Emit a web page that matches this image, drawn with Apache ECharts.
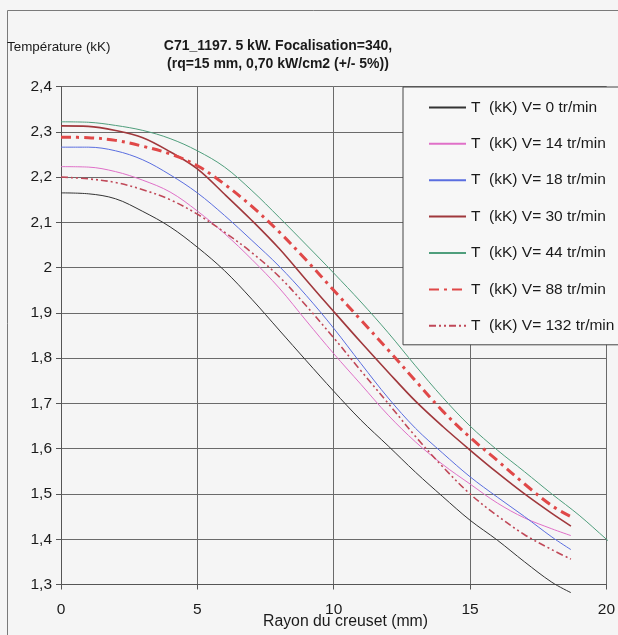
<!DOCTYPE html>
<html>
<head>
<meta charset="utf-8">
<script src="https://cdn.jsdelivr.net/npm/echarts@6/dist/echarts.min.js"></script>
<style>
html,body{margin:0;padding:0;background:#f5f5f5;}
#c{width:618px;height:635px;}
</style>
</head>
<body>
<div id="c"></div>
<script>
// ---- data ----
var radius = [0,1,2,3,4,5,6,7,8,9,10,11,12,13,14,15,16,17,18,18.7];
var radiusGreen = [0,1,2,3,4,5,6,7,8,9,10,11,12,13,14,15,16,17,18,19,20,20.4];

var tV0   = [2.165,2.163,2.152,2.124,2.090,2.045,1.993,1.930,1.862,1.794,1.727,1.663,1.606,1.548,1.494,1.442,1.398,1.350,1.305,1.282];
var tV14  = [2.223,2.222,2.212,2.193,2.167,2.125,2.075,2.018,1.955,1.882,1.810,1.742,1.674,1.615,1.565,1.522,1.480,1.447,1.423,1.408];
var tV18  = [2.266,2.266,2.258,2.238,2.205,2.165,2.115,2.060,2.003,1.938,1.866,1.788,1.712,1.645,1.590,1.538,1.493,1.450,1.405,1.377];
var tV30  = [2.313,2.312,2.303,2.287,2.256,2.218,2.162,2.104,2.042,1.972,1.903,1.835,1.769,1.705,1.649,1.597,1.547,1.500,1.457,1.429];
var tV44  = [2.322,2.321,2.314,2.303,2.285,2.258,2.222,2.170,2.111,2.050,1.988,1.924,1.856,1.783,1.713,1.650,1.597,1.549,1.500,1.453,1.400,1.379];
var tV88  = [2.288,2.287,2.281,2.268,2.251,2.225,2.184,2.135,2.079,2.016,1.950,1.884,1.818,1.750,1.683,1.625,1.574,1.522,1.474,1.450];
var tV132 = [2.200,2.196,2.188,2.172,2.150,2.118,2.078,2.033,1.980,1.915,1.845,1.772,1.700,1.627,1.560,1.500,1.452,1.410,1.377,1.356];

var seriesNames = ['T  (kK) V= 0 tr/min','T  (kK) V= 14 tr/min','T  (kK) V= 18 tr/min','T  (kK) V= 30 tr/min','T  (kK) V= 44 tr/min','T  (kK) V= 88 tr/min','T  (kK) V= 132 tr/min'];
var yTicks = ['1,3','1,4','1,5','1,6','1,7','1,8','1,9','2','2,1','2,2','2,3','2,4'];
var xTicks = ['0','5','10','15','20'];
var titleText = 'C71_1197. 5 kW. Focalisation=340,\n(rq=15 mm, 0,70 kW/cm2 (+/- 5%))';
var yName = 'Température (kK)';
var xName = 'Rayon du creuset (mm)';

// ---- build ----
function pairs(xs, ys){ return ys.map(function(v,i){ return [xs[i], v]; }); }
var FONT = '"Liberation Sans", Arial, sans-serif';

var styles = [
  {color:'#333333', width:1,   type:'solid'},
  {color:'#e070c8', width:1,   type:'solid'},
  {color:'#5a6ee0', width:1,   type:'solid'},
  {color:'#a0383c', width:1.6, type:'solid'},
  {color:'#4f9e7c', width:1,   type:'solid'},
  {color:'#e04848', width:3,   type:[10,5,3,5]},
  {color:'#c04858', width:1.6, type:[7,3,2,3,2,3]}
];
var dataSets = [
  pairs(radius,tV0), pairs(radius,tV14), pairs(radius,tV18), pairs(radius,tV30),
  pairs(radiusGreen,tV44), pairs(radius,tV88), pairs(radius,tV132)
];

var series = seriesNames.map(function(n,i){
  return {
    name:n, type:'line', data:dataSets[i], symbol:'none', smooth:0.35, clip:false,
    color: styles[i].color,
    lineStyle:{color:styles[i].color, width:styles[i].width, type:styles[i].type},
    emphasis:{disabled:true}, animation:false
  };
});

var chart = echarts.init(document.getElementById('c'), null, {renderer:'canvas'});
chart.setOption({
  backgroundColor:'#f5f5f5',
  animation:false,
  title:{
    text:titleText, left:278, top:37, textAlign:'center', padding:0,
    textStyle:{fontFamily:FONT, fontSize:14, fontWeight:'bold', color:'#1a1a1a', lineHeight:18}
  },
  grid:{left:61, top:86.5, right:10.6, bottom:50.5, containLabel:false},
  xAxis:{
    type:'value', min:0, max:20, interval:5,
    axisLine:{show:true, lineStyle:{color:'#555', width:1}},
    axisTick:{show:true, length:5, lineStyle:{color:'#555'}},
    axisLabel:{margin:17, fontFamily:FONT, fontSize:15.5, color:'#1a1a1a',
      formatter:function(v){ return xTicks[Math.round(v/5)]; }},
    splitLine:{show:true, lineStyle:{color:'#6a6a6a', width:1}}
  },
  yAxis:{
    type:'value', min:1.3, max:2.4, interval:0.1,
    axisLine:{show:true, lineStyle:{color:'#555', width:1}},
    axisTick:{show:true, length:5, lineStyle:{color:'#555'}},
    axisLabel:{margin:9, fontFamily:FONT, fontSize:15.5, color:'#1a1a1a',
      formatter:function(v){ return yTicks[Math.round((v-1.3)*10)]; }},
    splitLine:{show:true, lineStyle:{color:'#6a6a6a', width:1}}
  },
  legend:{
    orient:'vertical', left:403, top:87,
    data:seriesNames,
    itemWidth:37, itemHeight:16, itemGap:20.4,
    padding:[12.4, 20, 11, 25],
    itemStyle:{opacity:0},
    backgroundColor:'#f7f7f7', borderColor:'#444', borderWidth:1,
    textStyle:{fontFamily:FONT, fontSize:15.5, color:'#1a1a1a'},
    selectedMode:false
  },
  graphic:[
    {type:'rect', silent:true, z:-1, shape:{x:7.5, y:10.5, width:700, height:700},
      style:{fill:null, stroke:'#7a7a7a', lineWidth:1}},
    {type:'text', left:7, top:41, style:{text:yName, font:'13.4px ' + FONT, fill:'#1a1a1a'}},
    {type:'text', left:263, top:614, style:{text:xName, font:'15.8px ' + FONT, fill:'#1a1a1a'}}
  ],
  series:series
});
</script>
</body>
</html>
